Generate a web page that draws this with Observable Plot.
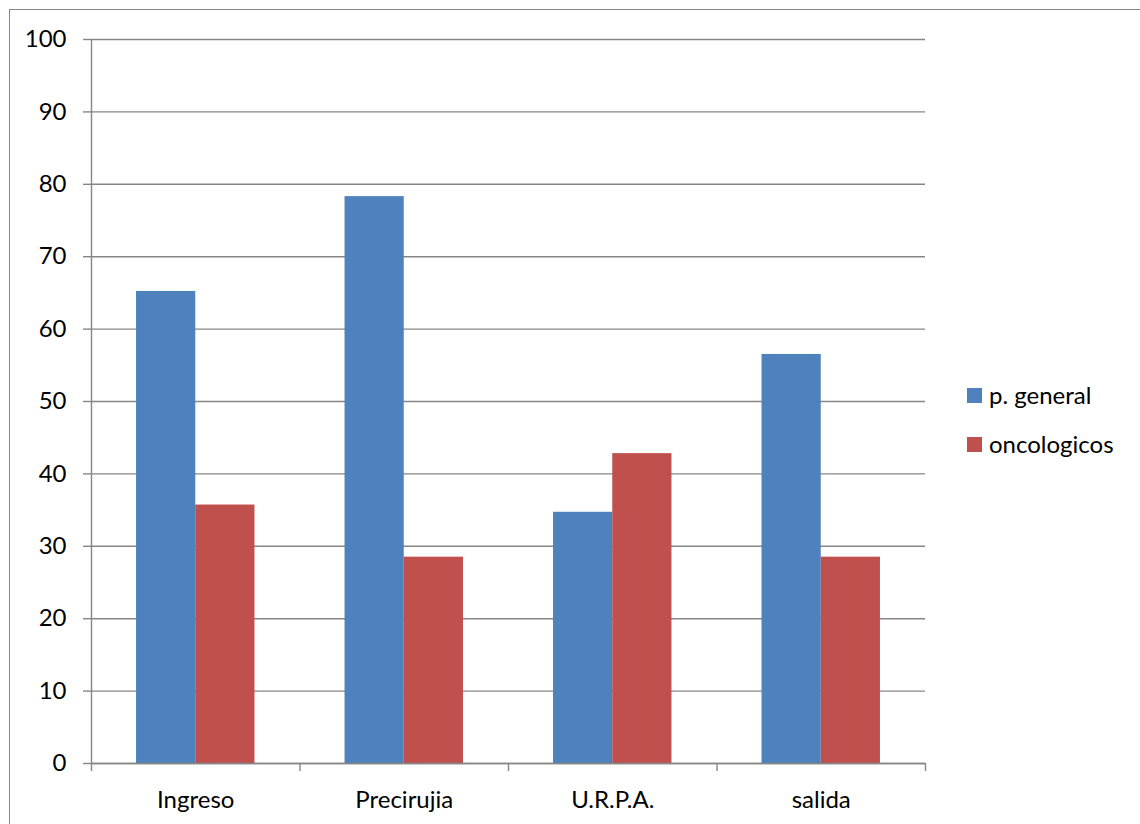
<!DOCTYPE html>
<html>
<head>
<meta charset="utf-8">
<script src="https://cdn.jsdelivr.net/npm/d3@7"></script>
<script src="https://cdn.jsdelivr.net/npm/@observablehq/plot@0.6"></script>
<style>
  html, body { margin: 0; padding: 0; background: #fff; overflow: hidden; }
  #wrap { position: relative; width: 1140px; height: 824px; font-family: Lato, "Open Sans", sans-serif; }
  #border { position: absolute; left: 9px; top: 9px; width: 1300px; height: 1000px;
            border-left: 1.5px solid #868686; border-top: 1.5px solid #868686; pointer-events: none; }
  #chart { position: absolute; left: 0; top: 0; }
  .legend { position: absolute; left: 967px; font-size: 24px; color: #000; line-height: 1; }
  .legend .sw { position: absolute; left: 0; width: 15px; height: 15px; }
  .legend .lb { position: absolute; left: 22px; white-space: nowrap; }
</style>
</head>
<body>
<div id="wrap">
  <div id="border"></div>
  <div id="chart"></div>
  <div id="legend"></div>
</div>
<script>
// Categories along the bottom axis
const categories = ["Ingreso", "Precirujia", "U.R.P.A.", "salida"];
// Series names and colours
const seriesNames = ["p. general", "oncologicos"];
const seriesColors = ["#4F81BD", "#C0504D"];
// Values per series, in category order
const pGeneral = [65.2, 78.3, 34.7, 56.5];
const oncologicos = [35.7, 28.5, 42.8, 28.5];
// Y axis ticks
const yTicks = [0, 10, 20, 30, 40, 50, 60, 70, 80, 90, 100];

// Width of one bar as a fraction of a category slot
const barWidth = 0.284;

const rows = categories.flatMap((cat, i) => [
  {cat, i, series: seriesNames[0], s: 0, value: pGeneral[i]},
  {cat, i, series: seriesNames[1], s: 1, value: oncologicos[i]}
]);

const gridColor = "#868686";

const chart = Plot.plot({
  width: 1140,
  height: 824,
  marginLeft: 91,
  marginRight: 215,
  marginTop: 39,
  marginBottom: 61,
  style: {fontFamily: "Lato, 'Open Sans', sans-serif", fontSize: "24px", color: "#000", background: "transparent"},
  x: {type: "linear", domain: [0, categories.length], axis: null, label: null},
  y: {type: "linear", domain: [0, 100], axis: null, label: null},
  color: {domain: seriesNames, range: seriesColors},
  marks: [
    Plot.gridY(yTicks, {stroke: gridColor, strokeOpacity: 1, strokeWidth: 1.4}),
    Plot.axisY(yTicks, {label: null, tickSize: 8, tickPadding: 17, stroke: gridColor, strokeWidth: 1.4, fill: "#000", tickFormat: d => String(d)}),
    Plot.rectY(rows, {
      x1: d => d.i + 0.5 - (d.s === 0 ? barWidth : 0),
      x2: d => d.i + 0.5 + (d.s === 1 ? barWidth : 0),
      y1: 0,
      y2: "value",
      fill: "series"
    }),
    Plot.ruleX([0], {stroke: gridColor, strokeWidth: 1.4}),
    Plot.ruleY([0], {stroke: gridColor, strokeWidth: 1.4}),
    Plot.axisX(d3.range(categories.length + 1), {label: null, tickSize: 8, stroke: gridColor, strokeWidth: 1.4, tickFormat: () => ""}),
    Plot.axisX(categories.map((c, i) => i + 0.5), {label: null, tickSize: 0, tickPadding: 27, fill: "#000", tickFormat: v => categories[Math.floor(v)]})
  ]
});
document.getElementById("chart").appendChild(chart);

// Legend to the right of the plot
const legend = document.getElementById("legend");
const legendTops = [388, 437];
seriesNames.forEach((name, k) => {
  const item = document.createElement("div");
  item.className = "legend";
  item.style.top = legendTops[k] + "px";
  item.innerHTML = `<div class="sw" style="background:${seriesColors[k]}"></div><div class="lb" style="top:-5px">${name}</div>`;
  legend.appendChild(item);
});
</script>
</body>
</html>
